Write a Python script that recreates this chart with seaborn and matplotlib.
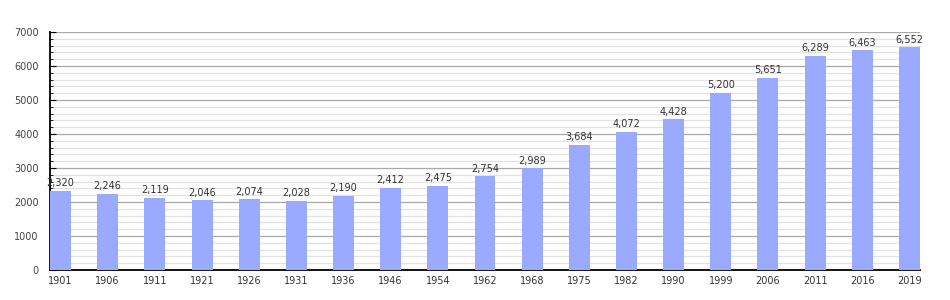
import matplotlib
matplotlib.use("Agg")
import matplotlib.pyplot as plt
import seaborn as sns
import pandas as pd
from matplotlib.ticker import MultipleLocator

years = ["1901","1906","1911","1921","1926","1931","1936","1946","1954","1962",
         "1968","1975","1982","1990","1999","2006","2011","2016","2019"]
population = [2320,2246,2119,2046,2074,2028,2190,2412,2475,2754,
              2989,3684,4072,4428,5200,5651,6289,6463,6552]

df = pd.DataFrame({"year": years, "pop": population})

sns.set_style("white")
plt.rcParams['font.family'] = ['DejaVu Sans']

fig = plt.figure(figsize=(9.5, 3), dpi=100)
ax = fig.add_axes([50/950, 0.1, 870/950, 238/300])

sns.barplot(data=df, x="year", y="pop", color="#99aaff", saturation=1,
            width=0.445, ax=ax, zorder=3, linewidth=0, edgecolor="none")

ax.set_ylim(0, 7000)
ax.set_xlim(-0.223, 18.223)
ax.yaxis.set_major_locator(MultipleLocator(1000))
ax.yaxis.set_minor_locator(MultipleLocator(200))
ax.grid(axis="y", which="major", color="#a8a8a8", linewidth=0.9, zorder=0)
ax.grid(axis="y", which="minor", color="#e2e2e2", linewidth=0.9, zorder=0)
ax.set_axisbelow(True)

for s in ["top", "right"]:
    ax.spines[s].set_visible(False)
for s in ["left", "bottom"]:
    ax.spines[s].set_color("black")
    ax.spines[s].set_linewidth(1.3)

ax.tick_params(axis="y", which="major", direction="in", length=4, left=True,
               labelsize=7, labelcolor="#444444", color="black", pad=8)
ax.tick_params(axis="y", which="minor", direction="in", length=2, left=True, color="black")
ax.tick_params(axis="x", which="both", length=0, labelsize=7, labelcolor="#333333", pad=4)
ax.set_yticklabels([f"{int(v)}" for v in ax.get_yticks()])
ax.set_xlabel("")
ax.set_ylabel("")

for i, v in enumerate(population):
    ax.text(i, v + 80, f"{v:,}", ha="center", va="bottom", fontsize=7, color="#333333")

fig.savefig("out.png", dpi=100)
